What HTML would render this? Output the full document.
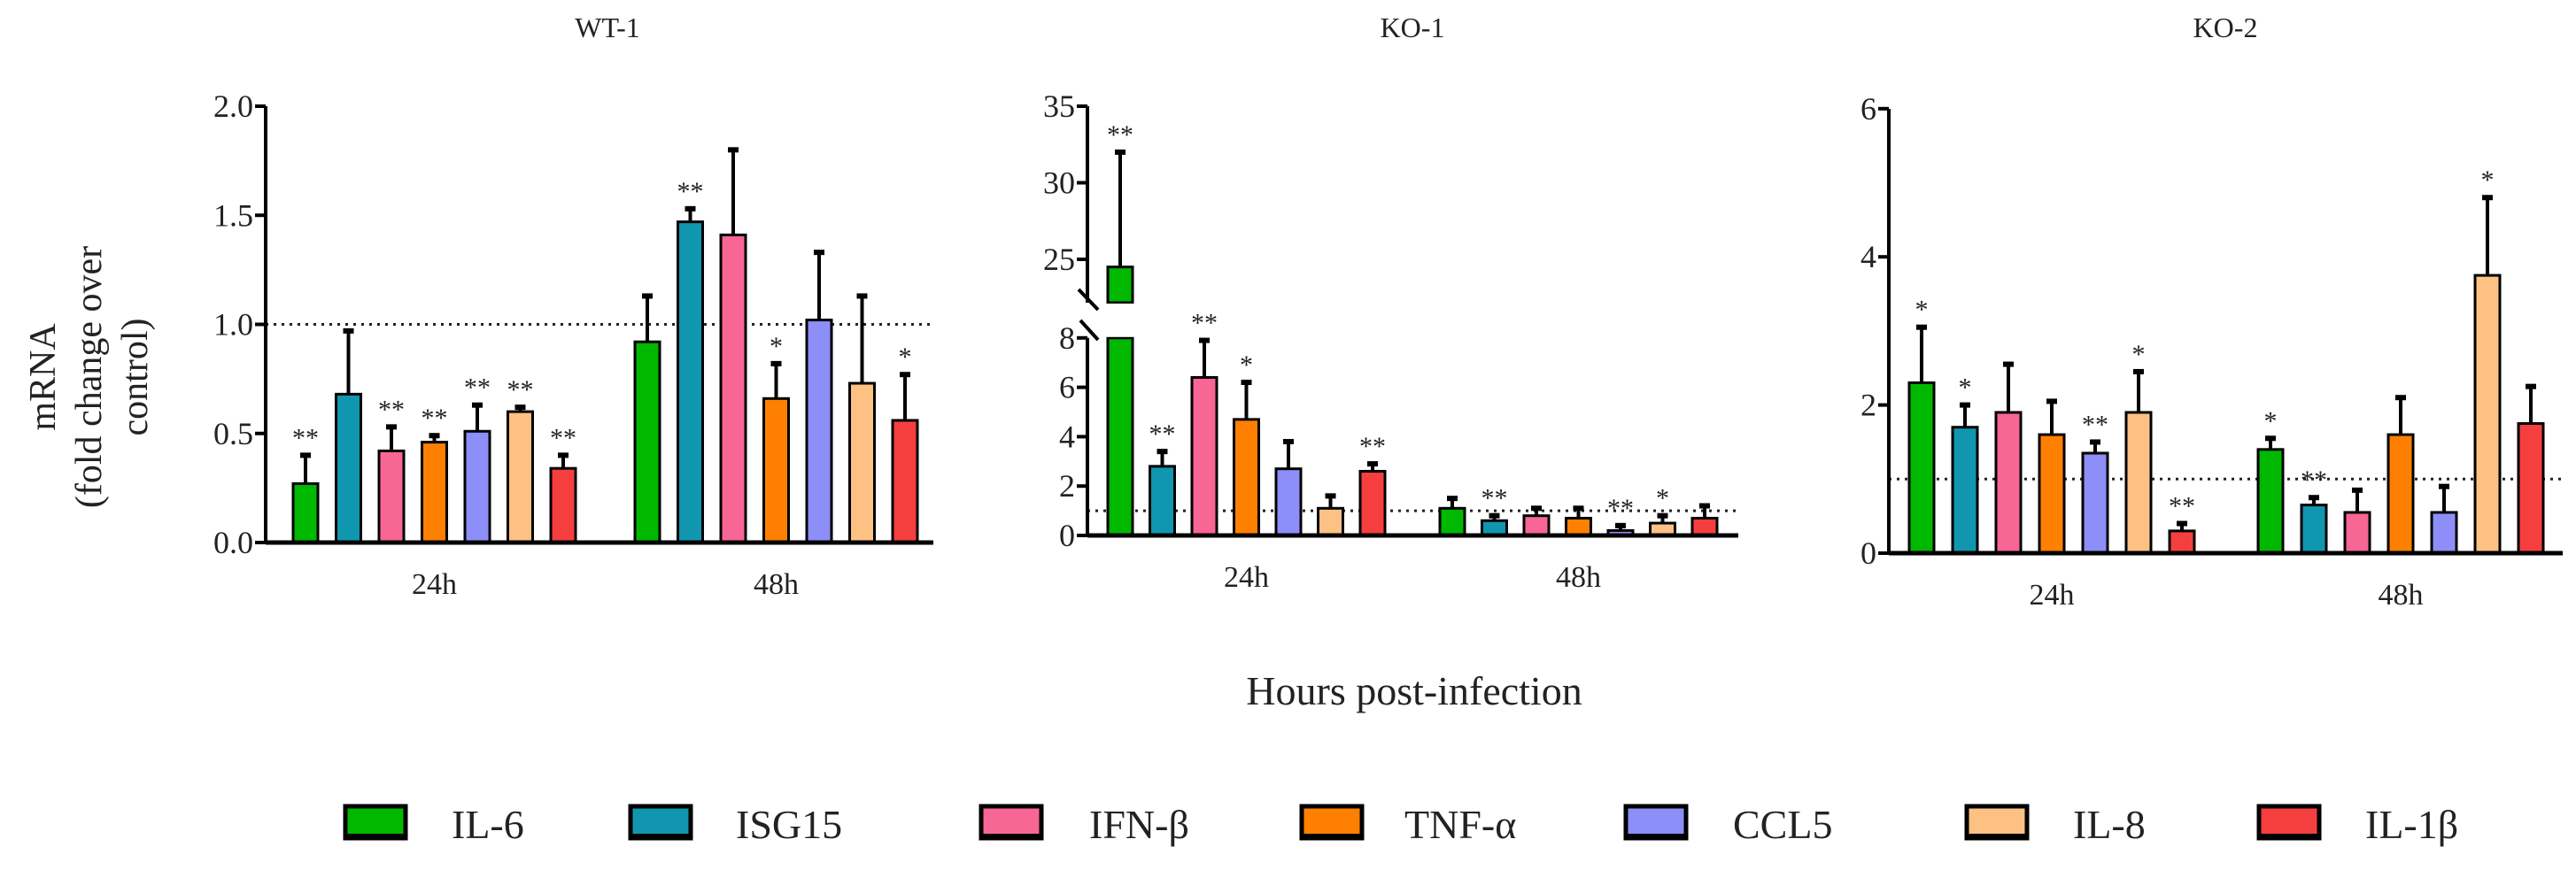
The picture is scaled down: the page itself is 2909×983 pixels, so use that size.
<!DOCTYPE html>
<html><head><meta charset="utf-8"><style>
html,body{margin:0;padding:0;background:#fff}
svg{display:block}
text{font-family:"Liberation Serif",serif;fill:#222}
</style></head><body>
<svg id="chart" width="2909" height="983" viewBox="0 0 2909 983" xmlns="http://www.w3.org/2000/svg"></svg>
<script>
const genes = ["IL-6","ISG15","IFN-β","TNF-α","CCL5","IL-8","IL-1β"];
const colors = ["#00b800","#1196b0","#f76694","#ff8000","#8e8ef8","#fdc184","#f53f3f"];
const timepoints = ["24h","48h"];
// WT-1
const wt24 = [0.27,0.68,0.42,0.46,0.51,0.60,0.34];
const wt24err = [0.40,0.97,0.53,0.49,0.63,0.62,0.40];
const wt24sig = ["**","","**","**","**","**","**"];
const wt48 = [0.92,1.47,1.41,0.66,1.02,0.73,0.56];
const wt48err = [1.13,1.53,1.80,0.82,1.33,1.13,0.77];
const wt48sig = ["","**","","*","","","*"];
// KO-1
const ko1_24 = [24.5,2.8,6.4,4.7,2.7,1.1,2.6];
const ko1_24err = [32,3.4,7.9,6.2,3.8,1.6,2.9];
const ko1_24sig = ["**","**","**","*","","","**"];
const ko1_48 = [1.1,0.6,0.8,0.7,0.2,0.5,0.7];
const ko1_48err = [1.5,0.8,1.1,1.1,0.4,0.8,1.2];
const ko1_48sig = ["","**","","","**","*",""];
// KO-2
const ko2_24 = [2.3,1.7,1.9,1.6,1.35,1.9,0.3];
const ko2_24err = [3.05,2.0,2.55,2.05,1.5,2.45,0.4];
const ko2_24sig = ["*","*","","","**","*","**"];
const ko2_48 = [1.4,0.65,0.55,1.6,0.55,3.75,1.75];
const ko2_48err = [1.55,0.75,0.85,2.1,0.9,4.8,2.25];
const ko2_48sig = ["*","**","","","","*",""];
const wtTicks = [0,0.5,1.0,1.5,2.0];
const ko1LowTicks = [0,2,4,6,8];
const ko1HighTicks = [25,30,35];
const ko2Ticks = [0,2,4,6];

const NS="http://www.w3.org/2000/svg";
const svg=document.getElementById('chart');
function mk(tag,attrs,parent){const e=document.createElementNS(NS,tag);for(const k in attrs)e.setAttribute(k,attrs[k]);(parent||svg).appendChild(e);return e;}
function txt(s,x,y,size,anchor,parent){const t=mk('text',{x:x,y:y,'font-size':size,'text-anchor':anchor||'middle'},parent);t.textContent=s;return t;}

const BW=28;
function panel(cfg){
  const g=mk('g',{});
  
  
  const t=txt(cfg.title,cfg.titleX,42,32,'middle',g);
  
  
  const dl=mk('line',{x1:cfg.ax,x2:cfg.axEnd,y1:cfg.y(1),y2:cfg.y(1),stroke:'#222','stroke-width':3,'stroke-dasharray':'3 6'},g);
  
  
  const groups=[cfg.d24,cfg.d48], errs=[cfg.e24,cfg.e48], sigs=[cfg.s24,cfg.s48], xs=[cfg.x24,cfg.x48];
  for(let gi=0;gi<2;gi++){
    for(let i=0;i<genes.length;i++){
      const cx=xs[gi]+i*cfg.step, v=groups[gi][i], ev=errs[gi][i];
      const ye=cfg.yTop(ev);
      const el=mk('line',{x1:cx,x2:cx,y1:cfg.yTop(v),y2:ye,stroke:'#000','stroke-width':4},g);
      
      
      mk('line',{x1:cx-6,x2:cx+6,y1:ye,y2:ye,stroke:'#000','stroke-width':6},g);
      if(cfg.brk && v>cfg.brk.lowMax){
        const r1=mk('rect',{x:cx-BW/2,y:cfg.brk.lowTopY,width:BW,height:cfg.y(0)-cfg.brk.lowTopY,fill:colors[i],stroke:'#000','stroke-width':3},g);
        
        
        const r2=mk('rect',{x:cx-BW/2,y:cfg.yTop(v),width:BW,height:cfg.brk.highBotY-cfg.yTop(v),fill:colors[i],stroke:'#000','stroke-width':3},g);
        
        
        mk('rect',{x:cx-BW/2-2,y:cfg.brk.highBotY+1,width:BW+4,height:cfg.brk.lowTopY-cfg.brk.highBotY-2,fill:'#fff'},g);
      } else {
        const r=mk('rect',{x:cx-BW/2,y:cfg.y(v),width:BW,height:cfg.y(0)-cfg.y(v),fill:colors[i],stroke:'#000','stroke-width':3},g);
        
        
      }
      if(sigs[gi][i]){
        const st=txt(sigs[gi][i],cx,ye-10,30,'middle',g);
        st.setAttribute('fill','#444');
        
        
      }
    }
    const xl=txt(timepoints[gi],xs[gi]+3*cfg.step,cfg.y(0)+58,34,'middle',g);
    
    
  }
  const xa=mk('line',{x1:cfg.ax,x2:cfg.axEnd,y1:cfg.y(0),y2:cfg.y(0),stroke:'#000','stroke-width':5},g);
  
  
  cfg.axisSegs.forEach(s=>{
    const ya=mk('line',{x1:cfg.ax,x2:cfg.ax,y1:s[0],y2:s[1],stroke:'#000','stroke-width':4},g);
    
    
  });
  cfg.ticks.forEach(tk=>{
    const yy=tk[1];
    mk('line',{x1:cfg.ax-12,x2:cfg.ax,y1:yy,y2:yy,stroke:'#000','stroke-width':4},g);
    const tl=txt(tk[0],cfg.ax-14,yy+12,36,'end',g);
    
    
  });
  return g;
}

const yWT=v=>613-v*246.5;
panel({name:'panel-wt-1',title:'WT-1',titleX:686,ax:300,axEnd:1054,y:yWT,yTop:yWT,
  d24:wt24,e24:wt24err,s24:wt24sig,d48:wt48,e48:wt48err,s48:wt48sig,x24:345,x48:731,step:48.5,
  axisSegs:[[120,613]],ticks:wtTicks.map(t=>[t.toFixed(1),yWT(t)])});

const yLow=v=>605-v*27.9;
const yHigh=v=>293-(v-25)*17.3;
const yKO1=v=>v<=8.3?yLow(v):yHigh(v);
panel({name:'panel-ko-1',title:'KO-1',titleX:1595,ax:1228,axEnd:1963,y:yLow,yTop:yKO1,
  brk:{lowMax:8,lowTopY:yLow(8),highBotY:342},
  d24:ko1_24,e24:ko1_24err,s24:ko1_24sig,d48:ko1_48,e48:ko1_48err,s48:ko1_48sig,x24:1265,x48:1640,step:47.5,
  axisSegs:[[yLow(8),605],[120,342]],
  ticks:ko1LowTicks.map(t=>[String(t),yLow(t)]).concat(ko1HighTicks.map(t=>[String(t),yHigh(t)]))});
mk('line',{x1:1218,x2:1240,y1:327,y2:350,stroke:'#000','stroke-width':4});
mk('line',{x1:1220,x2:1240,y1:362,y2:384,stroke:'#000','stroke-width':4});

const yKO2=v=>625-v*83.7;
panel({name:'panel-ko-2',title:'KO-2',titleX:2513,ax:2133,axEnd:2894,y:yKO2,yTop:yKO2,
  d24:ko2_24,e24:ko2_24err,s24:ko2_24sig,d48:ko2_48,e48:ko2_48err,s48:ko2_48sig,x24:2170,x48:2564,step:49,
  axisSegs:[[123,625]],ticks:ko2Ticks.map(t=>[String(t),yKO2(t)])});

[['mRNA',66],['(fold change over',118],['control)',170]].forEach(l=>{
  const t=mk('text',{'font-size':42,'text-anchor':'middle',transform:'translate('+(l[1]-4)+',426) rotate(-90)'});
  t.textContent=l[0];
  
  
});

const xt=txt('Hours post-infection',1597,796,46,'middle');



const legBox=[390,712,1108,1470,1836,2221,2551];
const legTxt=[510,831,1230,1586,1957,2341,2671];
for(let i=0;i<genes.length;i++){
  const g=mk('g',{});
  
  
  mk('rect',{x:legBox[i],y:911,width:68,height:36,fill:colors[i],stroke:'#000','stroke-width':5},g);
  mk('line',{x1:legBox[i],x2:legBox[i]+68,y1:945,y2:945,stroke:'#000','stroke-width':6},g);
  txt(genes[i],legTxt[i],947,46,'start',g);
}
</script>
</body></html>
